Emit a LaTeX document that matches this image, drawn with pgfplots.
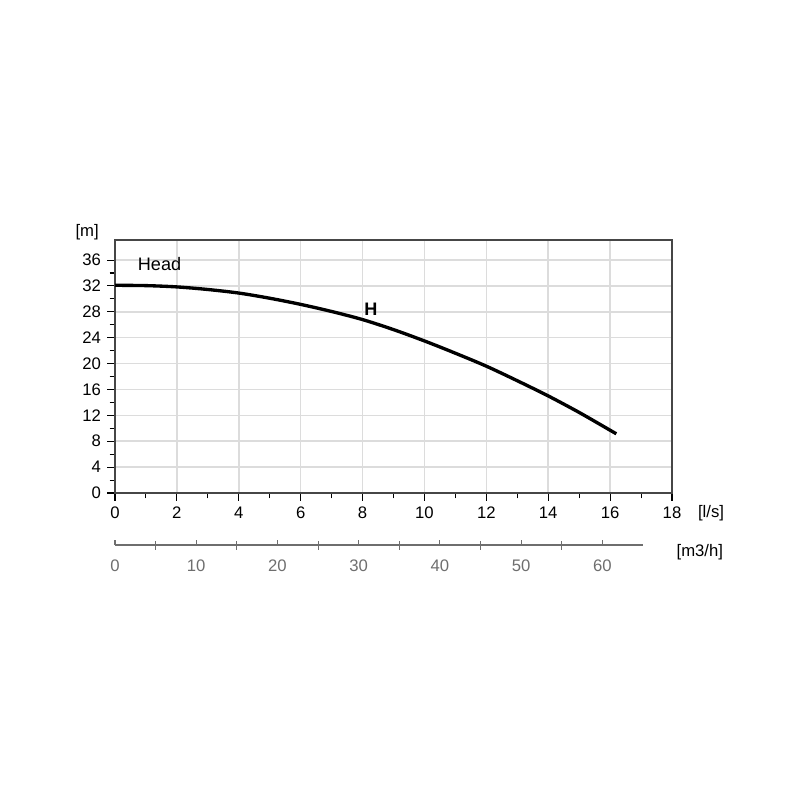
\documentclass[border=0pt]{standalone}
\usepackage{pgfplots}
\pgfplotsset{compat=1.18}
\usepackage{fontspec}
\setmainfont{Liberation Sans}
\definecolor{gridgray}{RGB}{220,220,220}
\definecolor{boxgray}{RGB}{70,70,70}
\definecolor{axgray}{RGB}{110,110,110}
\begin{document}
\begin{tikzpicture}[x=1cm,y=1cm]
\useasboundingbox (-2.3,-6.14) rectangle (13.7,9.86);
\begin{axis}[
  at={(0,0)}, anchor=origin,
  scale only axis, width=11.14cm, height=5.06cm,
  xmin=0, xmax=18, ymin=0, ymax=39.1,
  xtick={0,2,...,18}, ytick={0,4,...,36},
  minor x tick num=1, minor y tick num=1,
  grid=major, major grid style={gridgray, line width=0.9pt},
  axis line style={boxgray, line width=0.8pt},
  tick style={black, line width=0.6pt},
  tick align=outside,
  major tick length=4.5pt, minor tick length=3pt,
  xtick pos=bottom, ytick pos=left,
  tick label style={font=\fontsize{9.5}{11}\selectfont},
  /pgf/number format/assume math mode=true,
  clip=false,
]
\addplot[black, line width=1.9pt, smooth] coordinates {
(0,32.1) (1,32.05) (2,31.85) (3,31.45) (4,30.9) (5,30.1) (6,29.15) (7,28.05)
(8,26.8) (9,25.25) (10,23.5) (11,21.6) (12,19.6) (13,17.35) (14,15.0)
(15,12.45) (16,9.7) (16.2,9.15)
};
\node[anchor=west, font=\fontsize{10.3}{12}\selectfont] at (axis cs:0.54,35.4) {Head};
\node[font=\fontsize{10.3}{12}\selectfont\bfseries] at (axis cs:8.27,28.4) {H};
\node[font=\fontsize{9.5}{11}\selectfont] at (rel axis cs:-0.05,1.03) {[m]};
\node[font=\fontsize{9.5}{11}\selectfont] at (rel axis cs:1.07,-0.079) {[l/s]};
\end{axis}
\begin{axis}[
  at={(0,-1.04cm)}, anchor=origin,
  scale only axis, width=10.56cm, height=1cm,
  xmin=0, xmax=65, ymin=0, ymax=1,
  axis x line=bottom, axis y line=none,
  x axis line style={-, axgray, line width=0.8pt},
  xtick={0,10,...,60}, minor xtick={5,15,...,55},
  tick align=outside,
  xtick pos=bottom,
  major tick style={axgray, line width=0.6pt},
  minor tick style={axgray, line width=0.6pt},
  major tick length=0pt,
  tick label style={font=\fontsize{9.5}{11}\selectfont, text=axgray},
  xticklabel style={yshift=-5pt},
  /pgf/number format/assume math mode=true,
  clip=false,
]
\addplot[draw=none] coordinates {(0,0) (65,0)};
\addplot[axgray, line width=0.6pt, ycomb, forget plot] coordinates {(0,0.1) (10,0.1) (20,0.1) (30,0.1) (40,0.1) (50,0.1) (60,0.1)};
\addplot[axgray, line width=0.6pt, ycomb, forget plot] coordinates {(5,0.07) (15,0.07) (25,0.07) (35,0.07) (45,0.07) (55,0.07)};
\node[font=\fontsize{9.5}{11}\selectfont, anchor=center] at (axis cs:72,-0.15) {[m3/h]};
\end{axis}
\end{tikzpicture}
\end{document}
